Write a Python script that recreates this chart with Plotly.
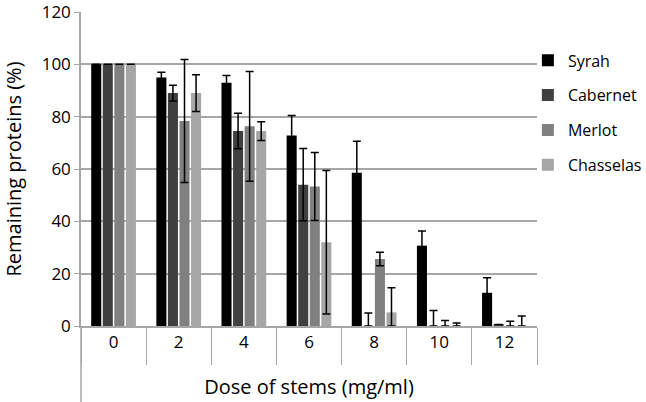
import plotly.graph_objects as go

doses = ["0", "2", "4", "6", "8", "10", "12"]
series_names = ["Syrah", "Cabernet", "Merlot", "Chasselas"]

syrah = [100, 95, 93, 72.8, 58.6, 30.7, 12.7]
cabernet = [100, 89, 74.5, 54, 0, 0, 0.6]
merlot = [100, 78.3, 76.3, 53.3, 25.6, 0, 0]
chasselas = [100, 89, 74.5, 32, 5.2, 0, 0]

syrah_err_plus = [0, 2, 2.7, 7.6, 12, 5.6, 5.7]
syrah_err_minus = [0, 2, 2.7, 7.6, 12, 5.6, 5.7]
cabernet_err_plus = [0, 3, 6.8, 13.8, 5, 5.9, 0]
cabernet_err_minus = [0, 3, 6.8, 13.8, 0, 0, 0]
merlot_err_plus = [0, 23.5, 21, 13, 2.6, 2.1, 1.8]
merlot_err_minus = [0, 23.5, 21, 13, 2.6, 0, 0]
chasselas_err_plus = [0, 7, 3.6, 27.4, 9.4, 1.1, 3.8]
chasselas_err_minus = [0, 7, 3.6, 27.4, 5.2, 0, 0]

values = [syrah, cabernet, merlot, chasselas]
errs_plus = [syrah_err_plus, cabernet_err_plus, merlot_err_plus, chasselas_err_plus]
errs_minus = [syrah_err_minus, cabernet_err_minus, merlot_err_minus, chasselas_err_minus]
colors = ["#000000", "#404040", "#808080", "#a6a6a6"]

FONT = "Open Sans"

fig = go.Figure()
for name, v, ep, em, c in zip(series_names, values, errs_plus, errs_minus, colors):
    fig.add_trace(go.Bar(
        x=doses, y=v, name=name, legendgroup=name,
        marker=dict(color=c, line=dict(width=0)),
        error_y=dict(type="data", symmetric=False, array=ep, arrayminus=em,
                     color="#000000", thickness=1.5, width=4),
    ))

fig.update_layout(
    width=646, height=402,
    margin=dict(l=81, r=109, t=12, b=76, autoexpand=False),
    paper_bgcolor="white", plot_bgcolor="white",
    barmode="group", bargap=0.29, bargroupgap=0.13,
    font=dict(family=FONT, color="#000000"),
    showlegend=True,
    legend=dict(x=0.98, y=0.90, xanchor="left", yanchor="top",
                traceorder="grouped", tracegroupgap=11,
                font=dict(family=FONT, size=16, color="#000000"),
                itemwidth=30, bgcolor="rgba(0,0,0,0)"),
    xaxis=dict(
        type="category", tickson="boundaries", ticks="outside", ticklen=37,
        tickcolor="#a6a6a6", tickwidth=1.2, automargin=False,
        showline=True, linecolor="#a6a6a6", linewidth=1.5,
        showgrid=False, ticklabeloverflow="allow",
        tickfont=dict(family=FONT, size=17, color="#000000"),
        title=dict(text="Dose of stems (mg/ml)", standoff=28,
                   font=dict(family=FONT, size=20, color="#000000")),
    ),
    yaxis=dict(
        range=[0, 120], dtick=20, tick0=0, automargin=False,
        showgrid=True, gridcolor="#a6a6a6", gridwidth=1.5,
        zeroline=False, ticklabeloverflow="allow",
        showline=True, linecolor="#a6a6a6", linewidth=1.5,
        ticks="outside", ticklen=5, tickcolor="#a6a6a6",
        tickfont=dict(family=FONT, size=17, color="#000000"),
        title=dict(text="Remaining proteins (%)", standoff=17,
                   font=dict(family=FONT, size=20, color="#000000")),
    ),
)

# extend the y axis line down through the category label area (Excel style)
fig.add_shape(type="line", xref="paper", yref="paper",
              x0=0, x1=0, y0=0, y1=-0.25,
              line=dict(color="#a6a6a6", width=1.5))

# remove the browser's default 8px body margin so the figure fills the window
fig.write_html("out.html", config={"displayModeBar": False},
               post_script="document.body.style.margin='0';")
